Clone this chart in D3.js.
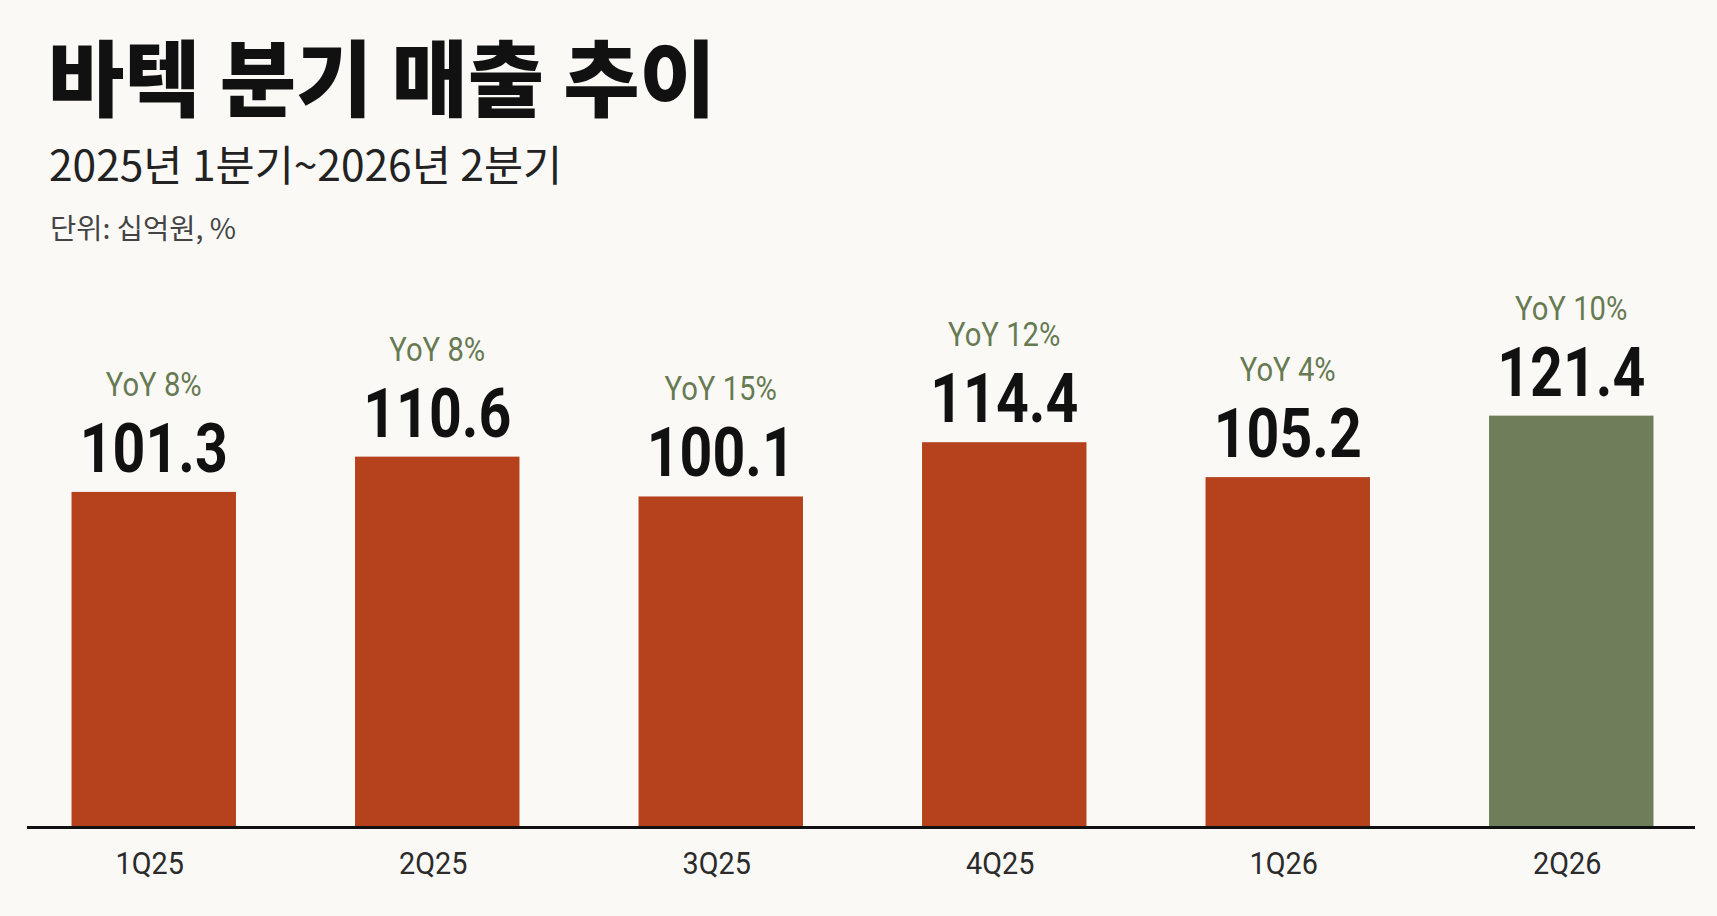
<!DOCTYPE html>
<html>
<head>
<meta charset="utf-8">
<script src="https://cdn.jsdelivr.net/npm/d3@7/dist/d3.min.js"></script>
<style>
  html, body { margin: 0; padding: 0; background: #faf9f6; }
  svg { display: block; }
</style>
</head>
<body>
<svg id="chart" width="1717" height="916"></svg>
<script>
// ---- Data ----
const title = "바텍 분기 매출 추이";
const subtitle = "2025년 1분기~2026년 2분기";
const unitLabel = "단위: 십억원, %";
const categories = ["1Q25", "2Q25", "3Q25", "4Q25", "1Q26", "2Q26"];
const revenue = [101.3, 110.6, 100.1, 114.4, 105.2, 121.4];
const yoy = [8, 8, 15, 12, 4, 10];
const highlight = ["2Q26"];

// ---- Layout / style ----
const W = 1717, H = 916;
const baseY = 827;
const svg = d3.select("#chart");
svg.append("rect").attr("width", W).attr("height", H).attr("fill", "#faf9f6");

const x = d3.scaleBand().domain(categories).range([12, 1713]).paddingInner(0.42).paddingOuter(0.21);
const y = d3.scaleLinear().domain([13, 130]).range([baseY, 383]);

const latin = "Roboto, 'Noto Sans', sans-serif";
const kr = "'Noto Sans CJK KR', 'Noto Sans', sans-serif";

// Titles
svg.append("text").attr("x", 48).attr("y", 110)
  .attr("font-family", kr).attr("font-weight", 900).attr("font-size", 83)
  .attr("fill", "#111").text(title);
svg.append("text").attr("x", 49).attr("y", 181)
  .attr("font-family", kr).attr("font-weight", 400).attr("font-size", 42.5)
  .attr("fill", "#222").text(subtitle);
svg.append("text").attr("x", 50).attr("y", 239)
  .attr("font-family", kr).attr("font-weight", 400).attr("font-size", 28.5)
  .attr("fill", "#444").text(unitLabel);

const data = categories.map((c, i) => ({ c, v: revenue[i], yoy: yoy[i] }));

// Bars
svg.append("g").selectAll("rect").data(data).join("rect")
  .attr("x", d => x(d.c))
  .attr("y", d => y(d.v))
  .attr("width", x.bandwidth())
  .attr("height", d => baseY - y(d.v))
  .attr("fill", d => highlight.includes(d.c) ? "#6e7d5a" : "#b5421d");

// Value labels
svg.append("g").selectAll("text").data(data).join("text")
  .attr("transform", d => `translate(${x(d.c) + x.bandwidth() / 2},${y(d.v) - 20}) scale(0.83,1)`)
  .attr("text-anchor", "middle")
  .attr("font-family", latin).attr("font-weight", 700).attr("font-size", 69)
  .attr("fill", "#111")
  .text(d => d.v.toFixed(1));

// YoY labels
svg.append("g").selectAll("text").data(data).join("text")
  .attr("transform", d => `translate(${x(d.c) + x.bandwidth() / 2},${y(d.v) - 96}) scale(0.86,1)`)
  .attr("text-anchor", "middle")
  .attr("font-family", latin).attr("font-weight", 400).attr("font-size", 34)
  .attr("fill", "#677a52")
  .text(d => `YoY ${d.yoy}%`);

// Axis baseline
svg.append("line").attr("x1", 27).attr("x2", 1695).attr("y1", baseY + 0.5).attr("y2", baseY + 0.5)
  .attr("stroke", "#111").attr("stroke-width", 3);

// Category labels via axis
const axis = d3.axisBottom(x).tickSize(0).tickPadding(0);
const gx = svg.append("g").attr("transform", `translate(0,${baseY})`).call(axis);
gx.select(".domain").remove();
gx.selectAll(".tick text")
  .attr("y", 0).attr("dy", 0)
  .attr("transform", "translate(-4,47) scale(0.9,1)")
  .attr("font-family", latin).attr("font-size", 32).attr("fill", "#2b2b2b");
</script>
</body>
</html>
